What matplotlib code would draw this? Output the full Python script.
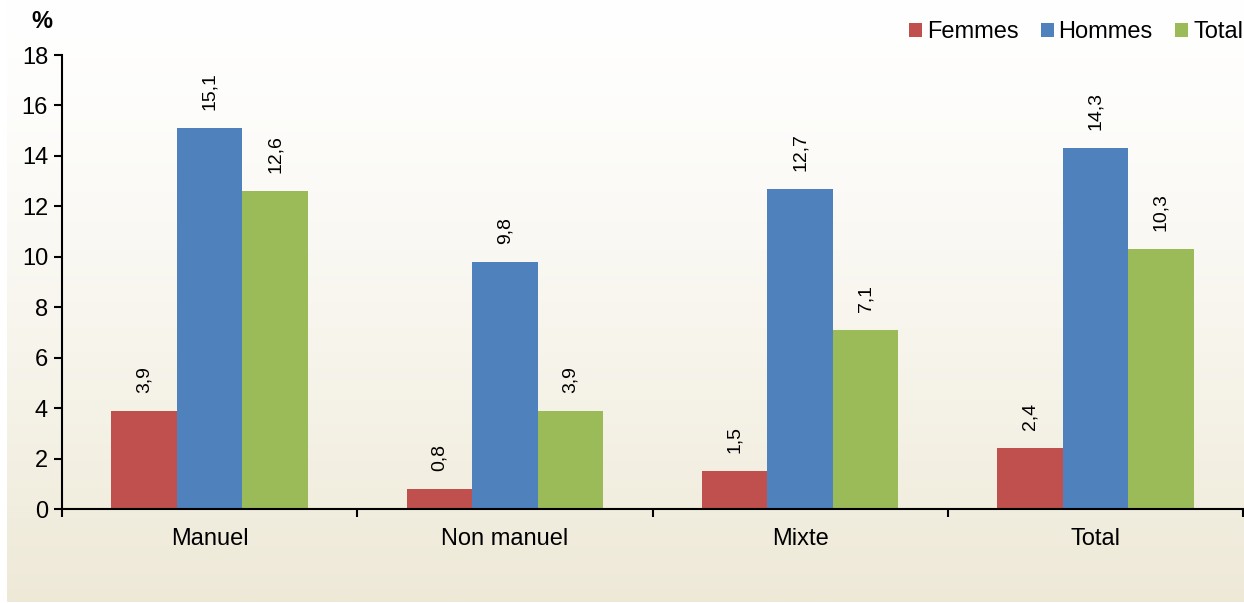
import numpy as np
import matplotlib
matplotlib.use("Agg")
import matplotlib.pyplot as plt

categories = ["Manuel", "Non manuel", "Mixte", "Total"]
series_names = ["Femmes", "Hommes", "Total"]
femmes = [3.9, 0.8, 1.5, 2.4]
hommes = [15.1, 9.8, 12.7, 14.3]
total = [12.6, 3.9, 7.1, 10.3]
colors = ["#C0504D", "#4F81BD", "#9BBB59"]

plt.rcParams["font.family"] = ["Liberation Sans", "DejaVu Sans"]


def main():
    fig = plt.figure(figsize=(12.44, 6.03), dpi=100)

    # gradient background panel
    bg = fig.add_axes([7 / 1244, 1 / 603, 1 - 7 / 1244, 1 - 1 / 603], zorder=0)
    grad = np.linspace(0, 1, 256).reshape(-1, 1)
    top = np.array([1.0, 1.0, 1.0])
    bottom = np.array([0xEE, 0xE9, 0xD7]) / 255
    img = top + (bottom - top) * grad[..., None] ** 1.3
    bg.imshow(img, aspect="auto", extent=[0, 1, 0, 1], origin="upper")
    bg.set_axis_off()

    ax = fig.add_axes([62 / 1244, 1 - 509 / 603, (1243 - 62) / 1244, (509 - 55) / 603], zorder=1)
    ax.patch.set_alpha(0)

    x = np.arange(len(categories))
    width = 0.222
    data = [femmes, hommes, total]
    for i, (name, vals, col) in enumerate(zip(series_names, data, colors)):
        pos = x + (i - 1) * width
        bars = ax.bar(pos, vals, width, color=col, label=name, edgecolor="none")
        for b, v in zip(bars, vals):
            ax.annotate(f"{v:.1f}".replace(".", ","),
                        (b.get_x() + b.get_width() / 2, v),
                        xytext=(0, 13), textcoords="offset points",
                        rotation=90, ha="center", va="bottom", fontsize=14)

    ax.set_xlim(-0.5, len(categories) - 0.5)
    ax.set_ylim(0, 18)
    ax.set_yticks(range(0, 19, 2))
    ax.set_xticks(x)
    ax.set_xticklabels(categories)
    ax.set_xticks(np.arange(-0.5, len(categories), 1.0), minor=True)
    ax.tick_params(axis="x", which="major", length=0, pad=14, labelsize=17)
    ax.tick_params(axis="x", which="minor", length=6, width=1.5, direction="out")
    ax.tick_params(axis="y", length=6, width=1.5, direction="out", labelsize=17, pad=4)
    for s in ["top", "right"]:
        ax.spines[s].set_visible(False)
    ax.spines["left"].set_linewidth(1.5)
    ax.spines["bottom"].set_linewidth(1.5)

    fig.text(42 / 1244, 1 - 22 / 603, "%", fontsize=17, fontweight="bold",
             ha="center", va="center")

    fig.legend(loc="center right", bbox_to_anchor=(1243 / 1244, 1 - 32 / 603), ncol=3,
               frameon=False, fontsize=17, handlelength=0.55, handleheight=0.55,
               handletextpad=0.2, columnspacing=0.95, borderaxespad=0, borderpad=0)

    fig.savefig("out.png", dpi=100)


if __name__ == "__main__":
    main()
